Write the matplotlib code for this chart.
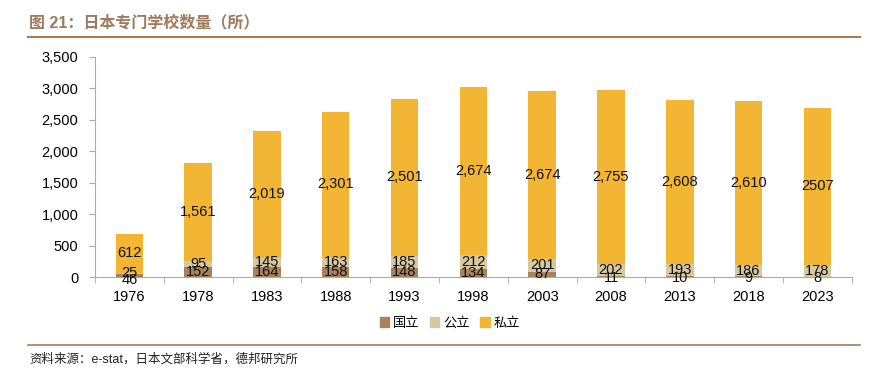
import matplotlib
matplotlib.use("Agg")
import matplotlib.pyplot as plt
import numpy as np
from matplotlib.patches import Rectangle
from matplotlib.lines import Line2D

plt.rcParams['font.family'] = ['Liberation Sans', 'Noto Sans CJK SC', 'DejaVu Sans']

years = ['1976', '1978', '1983', '1988', '1993', '1998', '2003', '2008', '2013', '2018', '2023']
national = [46, 152, 164, 158, 148, 134, 87, 11, 10, 9, 8]
public = [25, 95, 145, 163, 185, 212, 201, 202, 193, 186, 178]
private = [612, 1561, 2019, 2301, 2501, 2674, 2674, 2755, 2608, 2610, 2507]
private_labels = ['612', '1,561', '2,019', '2,301', '2,501', '2,674', '2,674', '2,755', '2,608', '2,610', '2507']
series_names = ['国立', '公立', '私立']
colors = ['#A8825A', '#D8C8A0', '#F3B634']

fig = plt.figure(figsize=(8.79, 3.75), dpi=100)
ax = fig.add_axes([0.108, 0.2613, 0.861, 0.587])

x = np.arange(len(years))
w = 0.4
nat = np.array(national)
pub = np.array(public)
pri = np.array(private)
ax.bar(x, nat, w, color=colors[0], label=series_names[0])
ax.bar(x, pub, w, bottom=nat, color=colors[1], label=series_names[1])
ax.bar(x, pri, w, bottom=nat + pub, color=colors[2], label=series_names[2])

fs = 10.5
for i in range(len(x)):
    ny = nat[i] / 2
    if nat[i] < 60:
        ny = -45 if i == 0 else -10
    ax.text(x[i], ny, f"{national[i]:,}", ha='center', va='center', fontsize=fs, color='#111111')
    py = nat[i] + pub[i] / 2
    if i == 0:
        py = 60
    ax.text(x[i], py, f"{public[i]:,}", ha='center', va='center', fontsize=fs, color='#111111')
    ax.text(x[i], nat[i] + pub[i] + pri[i] / 2, private_labels[i], ha='center', va='center', fontsize=fs, color='#111111')

ax.set_xlim(-0.5, len(x) - 0.5)
ax.set_ylim(0, 3500)
ax.set_yticks(np.arange(0, 3501, 500))
ax.set_yticklabels([f"{v:,}" for v in range(0, 3501, 500)], fontsize=10.5)
ax.set_xticks(x)
ax.set_xticklabels(years, fontsize=10.5)
ax.set_xticks(np.arange(-0.5, len(x) + 0.5, 1), minor=True)
ax.tick_params(axis='x', which='major', length=0, pad=9)
ax.tick_params(axis='x', which='minor', length=4, color='#AAAAAA')
ax.tick_params(axis='y', length=4, color='#AAAAAA', pad=8)
for s in ['top', 'right']:
    ax.spines[s].set_visible(False)
for s in ['left', 'bottom']:
    ax.spines[s].set_color('#AAAAAA')

handles = [Rectangle((0, 0), 1, 1, color=c) for c in colors]
fig.legend(handles, series_names, loc='center', bbox_to_anchor=(0.512, 0.138), ncol=3,
           frameon=False, fontsize=9.5, handlelength=0.7, handleheight=0.7,
           handletextpad=0.3, columnspacing=0.8)

fig.text(0.033, 0.94, '图 21：日本专门学校数量（所）', fontsize=11.5, fontweight='bold',
         color='#9C7A5C', ha='left', va='center')
fig.add_artist(Line2D([0.032, 0.978], [0.902, 0.902], color='#A67C5B', lw=1.5))
fig.add_artist(Line2D([0.032, 0.978], [0.08, 0.08], color='#A67C5B', lw=1.2))
fig.text(0.033, 0.042, '资料来源：e-stat，日本文部科学省，德邦研究所', fontsize=9,
         color='#222222', ha='left', va='center')

fig.savefig('out.png', dpi=100)
